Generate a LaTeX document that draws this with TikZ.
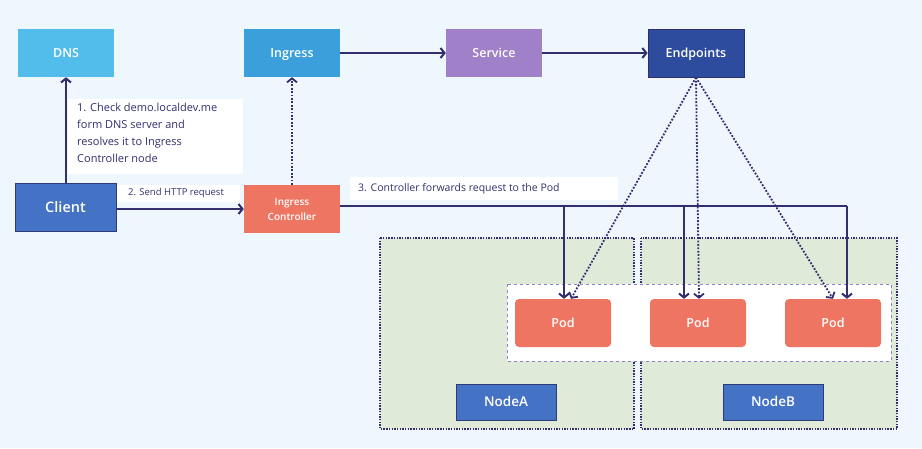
\documentclass[tikz,border=0pt]{standalone}
\usepackage{fontspec}
\IfFontExistsTF{Open Sans Semibold}{\setmainfont{Open Sans}[BoldFont={Open Sans Semibold}]}{\IfFontExistsTF{Open Sans SemiBold}{\setmainfont{Open Sans}[BoldFont={Open Sans SemiBold}]}{\setmainfont{Open Sans}}}
\usetikzlibrary{arrows.meta}
\definecolor{bgc}{HTML}{EEF6FE}
\definecolor{dnsc}{HTML}{52BDEB}
\definecolor{ingc}{HTML}{3A9FDB}
\definecolor{svcc}{HTML}{A080C8}
\definecolor{epc}{HTML}{2E4C9E}
\definecolor{clc}{HTML}{4472C4}
\definecolor{clb}{HTML}{2F3A7A}
\definecolor{podc}{HTML}{EE7562}
\definecolor{grn}{HTML}{DFEBD8}
\definecolor{panb}{HTML}{9080D0}
\definecolor{lnc}{HTML}{332F6E}
\tikzset{
  box/.style={inner sep=0pt, minimum width=96pt, minimum height=48pt, text=white, text height=8.5pt, text depth=0pt, font=\fontsize{12.5}{14}\selectfont\bfseries},
  podbox/.style={box, fill=podc, rounded corners=4pt, font=\fontsize{12.5}{14}\selectfont\bfseries},
  nodelab/.style={box, fill=clc, draw=clb, line width=1pt, minimum width=100pt, minimum height=36pt, text height=9pt, font=\fontsize{13.5}{15}\selectfont\bfseries},
  lab/.style={fill=white, text=lnc, inner sep=0pt},
  arr/.style={draw=lnc, line width=2pt, -{Straight Barb[length=4pt,width=10pt]}},
  darr/.style={draw=lnc, line width=1.8pt, dash pattern=on 1.8pt off 1.6pt, -{Straight Barb[length=4pt,width=10pt]}},
  ln/.style={draw=lnc, line width=2pt},
  nodearea/.style={fill=grn, draw=lnc, line width=1.4pt, dash pattern=on 1.4pt off 1.3pt},
}
\begin{document}
\begin{tikzpicture}[x=1pt,y=-1pt]
\useasboundingbox[fill=bgc] (0,0) rectangle (922,448);
% node areas
\draw[nodearea] (380,238) rectangle (634,429);
\draw[nodearea] (641,238) rectangle (897,429);
\draw[fill=white, draw=panb, line width=0.8pt, dashed] (507,284) rectangle (891,361);
% top row
\node[box, fill=dnsc] (dns) at (66,53) {DNS};
\node[box, fill=ingc] (ing) at (292,53) {Ingress};
\node[box, fill=svcc] (svc) at (494,53) {Service};
\node[box, fill=epc, draw=lnc, line width=0.8pt] (ep) at (696,53) {Endpoints};
% client row
\node[box, fill=clc, draw=clb, line width=1pt, minimum width=101pt, text height=10pt, font=\fontsize{14.5}{16}\selectfont\bfseries] (cl) at (65.5,207) {Client};
\node[box, fill=podc, align=center, text height=, text depth=, font=\fontsize{10}{15}\selectfont\bfseries] (ic) at (292,209) {Ingress\\Controller};
% pods
\node[podbox] (p1) at (563,323) {Pod};
\node[podbox] (p2) at (698,323) {Pod};
\node[podbox] (p3) at (833,323) {Pod};
% node labels
\node[nodelab] (na) at (506,402) {NodeA};
\node[nodelab] (nb) at (773,402) {NodeB};
% labels
\fill[white] (68,99) rectangle (243,174);
\node[lab, anchor=north west, align=left, font=\fontsize{11}{17}\selectfont] (l1) at (77,103) {1. Check demo.localdev.me\\form DNS server and\\resolves it to Ingress\\Controller node};
\fill[white] (117,185) rectangle (240,202);
\node[lab, font=\fontsize{9.5}{11}\selectfont] (l2) at (176,193.5) {2. Send HTTP request};
\fill[white] (350,177) rectangle (618,200);
\node[lab, anchor=west, font=\fontsize{10.5}{12}\selectfont] (l3) at (358,189) {3. Controller forwards request to the Pod};
% connectors
\draw[arr] (cl.north -| 66,0) -- (dns.south);
\draw[arr] (cl.east |- 0,209) -- (ic.west |- 0,209);
\draw[darr] (ic.north) -- (ing.south);
\draw[arr] (ing.east) -- (svc.west);
\draw[arr] (svc.east) -- (ep.west);
% endpoints dotted
\draw[darr] (ep.south) -- (p1.north -| 571,0);
\draw[darr] (ep.south) -- (p2.north -| 699,0);
\draw[darr] (ep.south) -- (p3.north -| 833,0);
% forwarding
\coordinate (f1) at (564,206);
\coordinate (f2) at (684,206);
\coordinate (f3) at (847,206);
\draw[ln] (ic.east |- f1) -- (f3);
\draw[arr] (f1) -- (p1.north -| f1);
\draw[arr] (f2) -- (p2.north -| f2);
\draw[arr] (f3) -- (p3.north -| f3);
\end{tikzpicture}
\end{document}
